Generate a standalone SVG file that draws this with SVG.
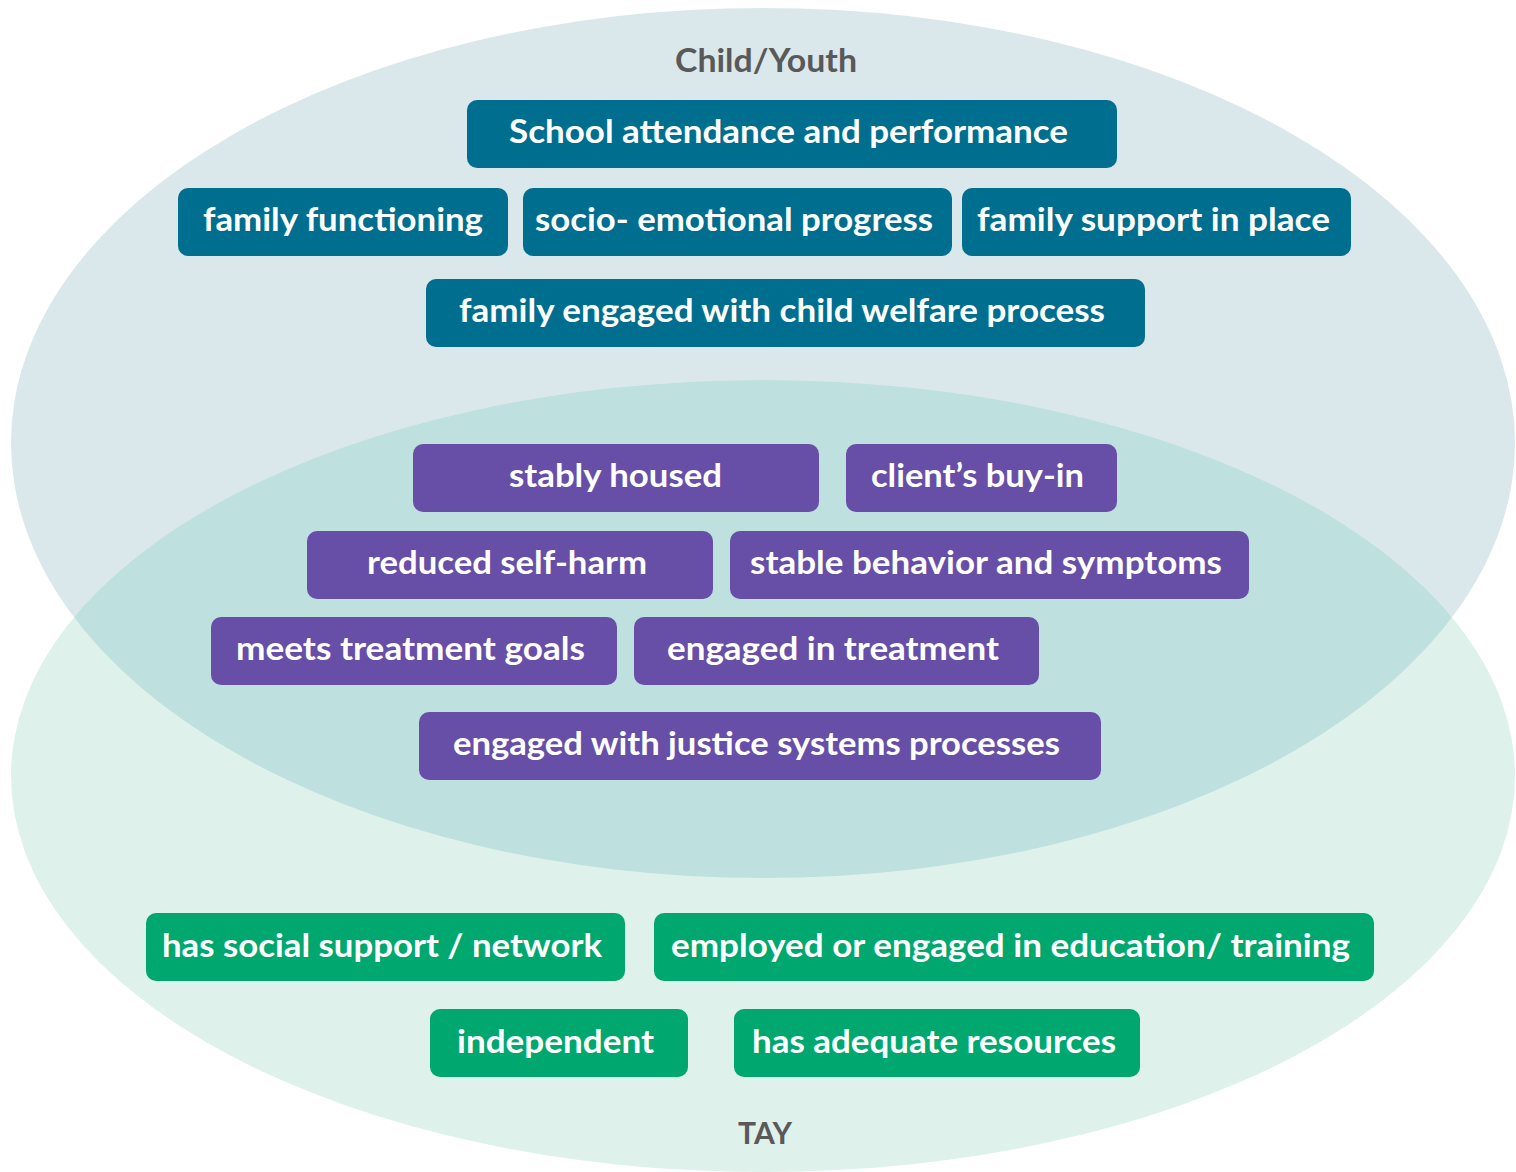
<svg xmlns="http://www.w3.org/2000/svg" width="1516" height="1172" viewBox="0 0 1516 1172">
<style>
.lbl{font-family:Lato,"Open Sans","Liberation Sans",sans-serif;font-weight:bold;font-size:33px;fill:#ffffff}
.ttl{font-family:Lato,"Open Sans","Liberation Sans",sans-serif;font-weight:bold;font-size:33px;fill:#595959}
.teal{fill:#006E8E}
.purple{fill:#674EA7}
.green{fill:#00A870}
</style>
<defs>
<clipPath id="clipTop"><ellipse cx="763" cy="443" rx="752" ry="435"/></clipPath>
</defs>
<rect width="1516" height="1172" fill="#ffffff"/>
<g id="set-child-youth"><ellipse cx="763" cy="443" rx="752" ry="435" fill="#DAE8EC"/></g>
<g id="set-tay"><ellipse cx="763" cy="776" rx="752" ry="396" fill="#DFF1EB"/></g>
<g id="overlap"><ellipse cx="763" cy="776" rx="752" ry="396" fill="#BEE0DF" clip-path="url(#clipTop)"/></g>
<g id="connectors"></g>
<g id="title-child-youth"><text class="ttl" x="675" y="72" textLength="182" lengthAdjust="spacingAndGlyphs">Child/Youth</text></g>
<g id="title-tay"><text class="ttl" x="738" y="1144" textLength="54" lengthAdjust="spacingAndGlyphs" style="font-size:31px">TAY</text></g>

<g id="n-school"><rect class="teal" x="467" y="100" width="650" height="68" rx="10"/><text class="lbl" x="509" y="143" textLength="559" lengthAdjust="spacingAndGlyphs">School attendance and performance</text></g>
<g id="n-family-functioning"><rect class="teal" x="178" y="188" width="330" height="68" rx="10"/><text class="lbl" x="203" y="231" textLength="280" lengthAdjust="spacingAndGlyphs">family functioning</text></g>
<g id="n-socio"><rect class="teal" x="523" y="188" width="429" height="68" rx="10"/><text class="lbl" x="535" y="231" textLength="398" lengthAdjust="spacingAndGlyphs">socio- emotional progress</text></g>
<g id="n-family-support"><rect class="teal" x="962" y="188" width="389" height="68" rx="10"/><text class="lbl" x="977" y="231" textLength="353" lengthAdjust="spacingAndGlyphs">family support in place</text></g>
<g id="n-family-engaged"><rect class="teal" x="426" y="279" width="719" height="68" rx="10"/><text class="lbl" x="459" y="322" textLength="646" lengthAdjust="spacingAndGlyphs">family engaged with child welfare process</text></g>

<g id="n-stably-housed"><rect class="purple" x="413" y="444" width="406" height="68" rx="10"/><text class="lbl" x="509" y="487" textLength="213" lengthAdjust="spacingAndGlyphs">stably housed</text></g>
<g id="n-buy-in"><rect class="purple" x="846" y="444" width="271" height="68" rx="10"/><text class="lbl" x="871" y="487" textLength="213" lengthAdjust="spacingAndGlyphs">client’s buy-in</text></g>
<g id="n-self-harm"><rect class="purple" x="307" y="531" width="406" height="68" rx="10"/><text class="lbl" x="367" y="574" textLength="280" lengthAdjust="spacingAndGlyphs">reduced self-harm</text></g>
<g id="n-stable-behavior"><rect class="purple" x="730" y="531" width="519" height="68" rx="10"/><text class="lbl" x="750" y="574" textLength="472" lengthAdjust="spacingAndGlyphs">stable behavior and symptoms</text></g>
<g id="n-treatment-goals"><rect class="purple" x="211" y="617" width="406" height="68" rx="10"/><text class="lbl" x="236" y="660" textLength="349" lengthAdjust="spacingAndGlyphs">meets treatment goals</text></g>
<g id="n-engaged-treatment"><rect class="purple" x="634" y="617" width="405" height="68" rx="10"/><text class="lbl" x="667" y="660" textLength="332" lengthAdjust="spacingAndGlyphs">engaged in treatment</text></g>
<g id="n-justice"><rect class="purple" x="419" y="712" width="682" height="68" rx="10"/><text class="lbl" x="453" y="755" textLength="607" lengthAdjust="spacingAndGlyphs">engaged with justice systems processes</text></g>

<g id="n-social-support"><rect class="green" x="146" y="913" width="479" height="68" rx="10"/><text class="lbl" x="162" y="957" textLength="440" lengthAdjust="spacingAndGlyphs">has social support / network</text></g>
<g id="n-employed"><rect class="green" x="654" y="913" width="720" height="68" rx="10"/><text class="lbl" x="671" y="957" textLength="679" lengthAdjust="spacingAndGlyphs">employed or engaged in education/ training</text></g>
<g id="n-independent"><rect class="green" x="430" y="1009" width="258" height="68" rx="10"/><text class="lbl" x="457" y="1053" textLength="197" lengthAdjust="spacingAndGlyphs">independent</text></g>
<g id="n-resources"><rect class="green" x="734" y="1009" width="406" height="68" rx="10"/><text class="lbl" x="752" y="1053" textLength="364" lengthAdjust="spacingAndGlyphs">has adequate resources</text></g>
</svg>
